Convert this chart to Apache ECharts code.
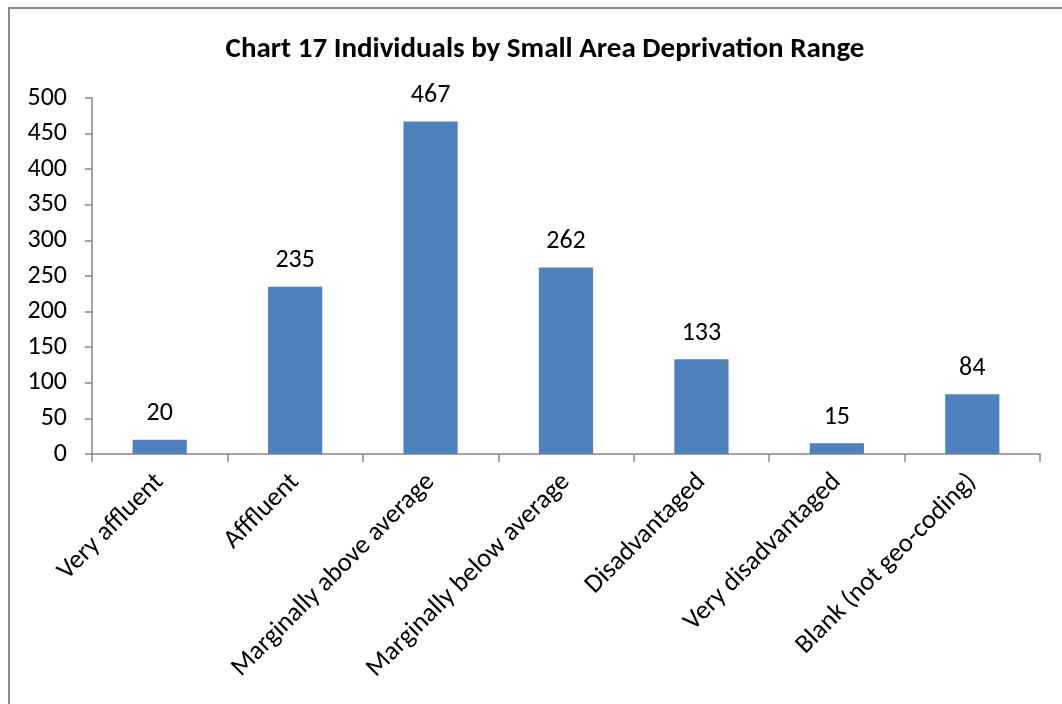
<!DOCTYPE html>
<html>
<head>
<meta charset="utf-8">
<style>
  html, body { margin: 0; padding: 0; background: #ffffff; }
  #chart { width: 1062px; height: 704px; }
</style>
<script src="https://cdn.jsdelivr.net/npm/echarts@6/dist/echarts.min.js"></script>
</head>
<body>
<div id="chart"></div>
<script>
// Individuals per small-area deprivation band
const titleText = 'Chart 17 Individuals by Small Area Deprivation Range';
const categories = [
  'Very affluent',
  'Afffluent',
  'Marginally above average',
  'Marginally below average',
  'Disadvantaged',
  'Very disadvantaged',
  'Blank (not geo-coding)'
];
const individuals = [20, 235, 467, 262, 133, 15, 84];
const yTicks = { min: 0, max: 500, interval: 50 };

const FONT = 'Carlito, Lato, "Open Sans", sans-serif';
const AXIS_GREY = '#868686';

const chart = echarts.init(document.getElementById('chart'), null, { renderer: 'canvas' });

chart.setOption({
  backgroundColor: '#ffffff',
  animation: false,
  title: {
    text: titleText,
    left: 540,
    textAlign: 'center',
    top: 30,
    textStyle: { fontFamily: FONT, fontWeight: 'bold', fontSize: 29, color: '#000000' }
  },
  graphic: [{
    // outer chart frame (runs off the right and bottom edges)
    type: 'rect',
    shape: { x: 9, y: 8, width: 1100, height: 800 },
    style: { fill: 'none', stroke: '#8a8a8a', lineWidth: 2 },
    silent: true
  }],
  grid: { left: 92, right: 22, top: 98, bottom: 250, containLabel: false },
  xAxis: {
    type: 'category',
    data: categories,
    axisLine: { lineStyle: { color: AXIS_GREY, width: 1.5 } },
    axisTick: { show: true, alignWithLabel: false, length: 8, lineStyle: { color: AXIS_GREY, width: 1.5 } },
    axisLabel: {
      rotate: 45,
      interval: 0,
      margin: 24,
      fontFamily: FONT,
      fontSize: 26.5,
      color: '#000000'
    }
  },
  yAxis: {
    type: 'value',
    min: yTicks.min,
    max: yTicks.max,
    interval: yTicks.interval,
    splitLine: { show: false },
    axisLine: { show: true, lineStyle: { color: AXIS_GREY, width: 1.5 } },
    axisTick: { show: true, length: 7, lineStyle: { color: AXIS_GREY, width: 1.5 } },
    axisLabel: {
      margin: 25,
      fontFamily: FONT,
      fontSize: 26,
      color: '#000000'
    }
  },
  series: [{
    type: 'bar',
    data: individuals,
    barWidth: '40%',
    itemStyle: { color: '#4F81BD' },
    label: {
      show: true,
      position: 'top',
      distance: 13,
      fontFamily: FONT,
      fontSize: 26,
      color: '#000000'
    }
  }]
});
</script>
</body>
</html>
